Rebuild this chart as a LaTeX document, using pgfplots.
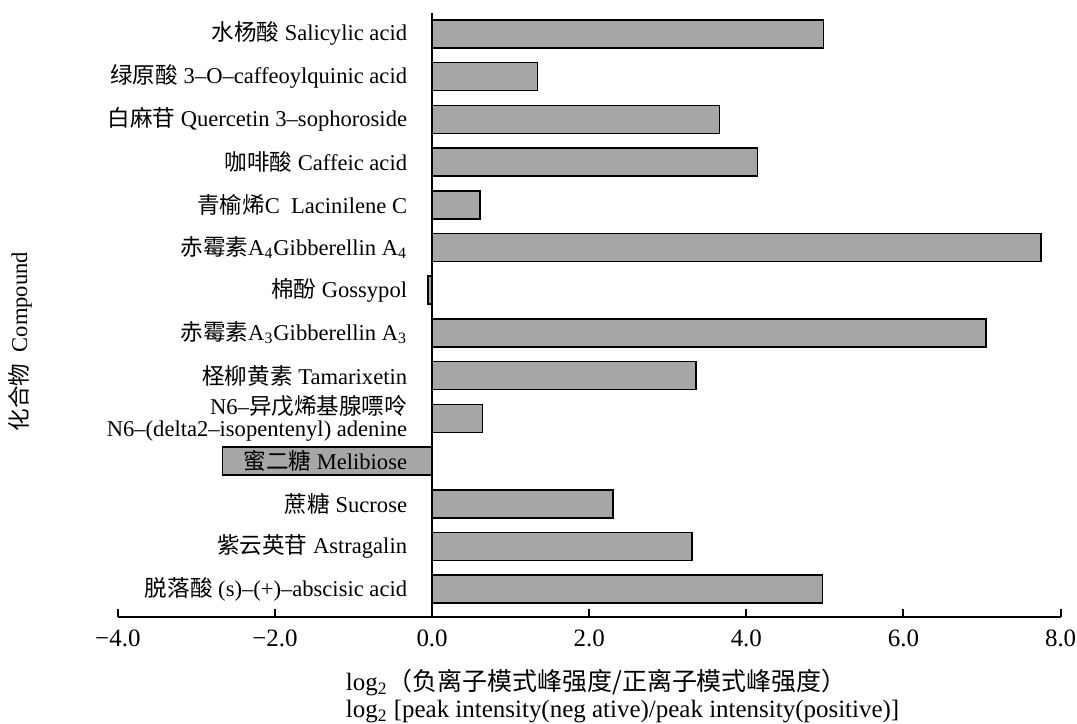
\documentclass[border=0pt]{standalone}
\usepackage{fontspec}
\setmainfont{Liberation Serif}
\newfontfamily\cjk{Noto Sans CJK SC}
\usepackage{pgfplots}
\pgfplotsset{compat=1.18}
\definecolor{barfill}{HTML}{A6A6A6}
\begin{document}
\begin{tikzpicture}[font=\fontsize{11.3}{13}\selectfont]
\begin{axis}[
  scale only axis,
  width=472pt, height=302.5pt,
  xmin=-4, xmax=8,
  ymin=-0.655, ymax=13.49,
  axis on top,
  axis x line=bottom,
  axis y line=center,
  axis line style={-, line width=1pt, black},
  xtick={-4,-2,0,2,4,6,8},
  xticklabels={−4.0,−2.0,0.0,2.0,4.0,6.0,8.0},
  xtick align=inside,
  major tick length=4pt,
  every tick/.style={black, line width=1pt},
  hide obscured x ticks=false,
  ytick={0,...,13},
  y tick style={draw=none},
  yticklabel style={align=right, xshift=-7pt, font=\fontsize{11.3}{11}\selectfont},
  yticklabels={
    {\cjk 脱落酸} (s)–(+)–abscisic acid,
    {\cjk 紫云英苷} Astragalin,
    {\cjk 蔗糖} Sucrose,
    {\cjk 蜜二糖} Melibiose,
    {N6–{\cjk 异戊烯基腺嘌呤}\\N6–(delta2–isopentenyl) adenine},
    {\cjk 柽柳黄素} Tamarixetin,
    {\cjk 赤霉素}A\textsubscript{3}Gibberellin A\textsubscript{3},
    {\cjk 棉酚} Gossypol,
    {\cjk 赤霉素}A\textsubscript{4}Gibberellin A\textsubscript{4},
    {\cjk 青榆烯}C\enspace Lacinilene C,
    {\cjk 咖啡酸} Caffeic acid,
    {\cjk 白麻苷} Quercetin 3–sophoroside,
    {\cjk 绿原酸} 3–O–caffeoylquinic acid,
    {\cjk 水杨酸} Salicylic acid
  },
  xticklabel style={inner xsep=0pt, yshift=-3pt, font=\fontsize{12.5}{14}\selectfont},
  clip=false,
]
\addplot[xbar, bar width=0.655, fill=barfill, draw=black, line width=0.75pt]
  table[x=val, y=pos] {
pos val
0 4.97
1 3.31
2 2.30
3 -2.67
4 0.64
5 3.36
6 7.05
7 -0.05
8 7.75
9 0.61
10 4.14
11 3.66
12 1.34
13 4.98
};
\coordinate (sw) at (rel axis cs:0,0);
\coordinate (ne) at (rel axis cs:1,1);
\node[rotate=90, anchor=center] at ([xshift=-49pt]rel axis cs:0,0.456) {{\cjk 化合物}\enspace Compound};
\node[anchor=north west, align=left, inner sep=0pt, font=\fontsize{12.5}{13.5}\selectfont] at ([yshift=-26pt]rel axis cs:0.2415,0)
  {log\textsubscript{2}{\cjk （负离子模式峰强度/正离子模式峰强度）}\\[0pt]
   log\textsubscript{2} [peak intensity(neg ative)/peak intensity(positive)]};
\end{axis}
\path ([xshift=-59pt,yshift=-51pt]sw) rectangle ([xshift=8.2pt,yshift=6.5pt]ne);
\end{tikzpicture}
\end{document}
